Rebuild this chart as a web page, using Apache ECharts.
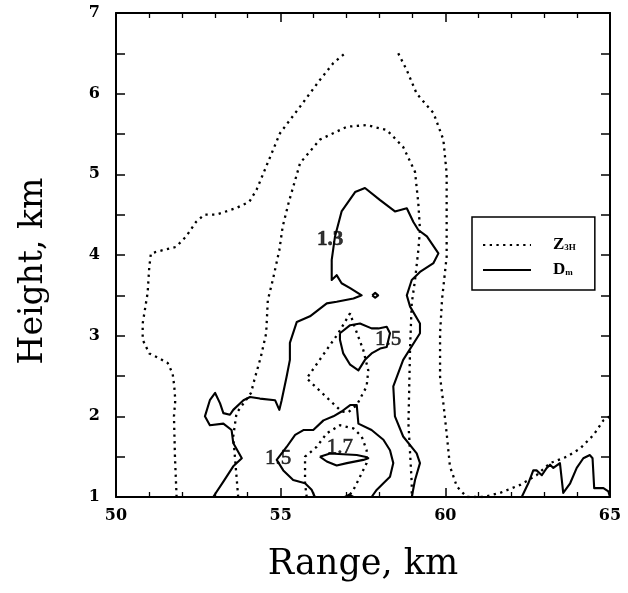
<!DOCTYPE html>
<html>
<head>
<meta charset="utf-8">
<script src="https://cdn.jsdelivr.net/npm/echarts@6/dist/echarts.min.js"></script>
<style>
  html, body { margin: 0; padding: 0; background: #fff; }
  #chart { width: 628px; height: 593px; }
</style>
</head>
<body>
<div id="chart"></div>
<script>
// Axis ticks (km)
const rangeTicks = [50, 55, 60, 65];
const heightTicks = [1, 2, 3, 4, 5, 6, 7];

// Z_3H reflectivity contours, [range km, height km]
const z3hOuterWest = [
  [51.84, 1.00], [51.79, 1.50], [51.76, 2.00], [51.80, 2.20], [51.77, 2.37], [51.72, 2.53],
  [51.57, 2.66], [51.31, 2.72], [51.01, 2.78], [50.81, 2.95], [50.81, 3.15], [50.96, 3.53],
  [51.01, 3.85], [51.06, 4.02], [51.42, 4.06], [51.82, 4.10], [52.13, 4.23], [52.43, 4.41],
  [52.68, 4.50], [53.04, 4.50], [53.64, 4.58], [54.05, 4.66], [54.27, 4.81], [54.98, 5.51],
  [55.59, 5.84], [56.19, 6.17], [56.60, 6.38], [56.95, 6.50]
];
const z3hOuterEast = [
  [58.57, 6.50], [58.83, 6.29], [59.13, 6.00], [59.64, 5.76], [59.94, 5.43], [60.04, 5.01],
  [60.04, 3.98], [59.90, 3.45], [59.84, 3.03], [59.84, 2.49], [59.94, 2.16], [60.04, 1.79],
  [60.14, 1.38], [60.35, 1.13], [60.65, 1.00], [61.15, 1.00], [61.66, 1.05], [62.27, 1.15],
  [62.77, 1.27], [63.18, 1.42], [63.69, 1.50], [64.09, 1.60], [64.50, 1.77], [64.80, 1.95],
  [65.00, 2.00]
];
const z3hInner = [
  [53.71, 1.00], [53.66, 1.25], [53.56, 1.75], [53.66, 2.04], [54.10, 2.29], [54.20, 2.45],
  [54.40, 2.74], [54.56, 3.03], [54.61, 3.44], [54.76, 3.69], [54.96, 4.06], [55.06, 4.35],
  [55.25, 4.66], [55.59, 5.14], [56.19, 5.43], [57.01, 5.59], [57.61, 5.61], [58.22, 5.55],
  [58.72, 5.34], [59.08, 5.03], [59.18, 4.64], [59.23, 4.31], [59.18, 4.06], [59.08, 3.69],
  [58.98, 3.40], [58.93, 2.86], [58.88, 1.91], [58.98, 1.17], [58.98, 1.00]
];
const z3hKite = [
  [57.11, 3.28], [56.75, 3.03], [55.79, 2.47], [56.85, 2.06], [57.05, 2.05], [57.31, 2.14],
  [57.61, 2.37], [57.66, 2.57], [57.51, 2.82], [57.21, 3.15], [57.11, 3.28]
];
const z3hCore = [
  [55.79, 1.00], [55.74, 1.17], [55.74, 1.50], [56.09, 1.62], [56.40, 1.79], [56.80, 1.89],
  [57.21, 1.85], [57.46, 1.75], [57.61, 1.58], [57.61, 1.42], [57.36, 1.21], [57.21, 1.09],
  [57.05, 1.00]
];

// D_m median drop diameter contours, [range km, height km]
const dm13 = [
  [52.95, 1.00], [53.26, 1.19], [53.56, 1.38], [53.82, 1.48], [53.56, 1.67], [53.51, 1.83],
  [53.26, 1.91], [52.85, 1.89], [52.70, 2.00], [52.85, 2.20], [53.01, 2.29], [53.16, 2.16],
  [53.26, 2.04], [53.46, 2.02], [53.56, 2.08], [53.87, 2.20], [54.07, 2.24], [54.37, 2.22],
  [54.83, 2.20], [54.96, 2.08], [55.03, 2.20], [55.18, 2.49], [55.28, 2.70], [55.28, 2.91],
  [55.49, 3.17], [55.89, 3.24], [56.40, 3.40], [56.70, 3.42], [57.21, 3.46], [57.46, 3.50],
  [57.11, 3.59], [56.85, 3.65], [56.70, 3.75], [56.55, 3.69], [56.55, 3.94], [56.65, 4.23],
  [56.85, 4.54], [57.26, 4.78], [57.56, 4.83], [58.02, 4.68], [58.47, 4.54], [58.83, 4.58],
  [59.03, 4.41], [59.18, 4.31], [59.44, 4.23], [59.79, 4.02], [59.64, 3.90], [59.23, 3.79],
  [58.98, 3.69], [58.83, 3.50], [58.93, 3.36], [59.23, 3.15], [59.23, 3.03], [58.72, 2.70],
  [58.42, 2.37], [58.47, 2.00], [58.72, 1.75], [59.13, 1.54], [59.23, 1.42], [59.08, 1.21],
  [58.98, 1.00]
];
const dmSpeck = [[57.78, 3.50], [57.87, 3.53], [57.96, 3.50], [57.87, 3.47], [57.78, 3.50]];
const dm15Upper = [
  [56.80, 3.03], [57.11, 3.13], [57.41, 3.15], [57.76, 3.09], [57.97, 3.09], [58.22, 3.11],
  [58.32, 3.03], [58.22, 2.86], [58.02, 2.84], [57.76, 2.78], [57.56, 2.70], [57.36, 2.57],
  [57.11, 2.64], [56.90, 2.78], [56.80, 2.95], [56.80, 3.03]
];
const dm15Lower = [
  [56.04, 1.00], [55.94, 1.09], [55.74, 1.17], [55.38, 1.21], [55.08, 1.33], [54.88, 1.46],
  [55.18, 1.62], [55.44, 1.77], [55.69, 1.83], [55.99, 1.83], [56.30, 1.95], [56.60, 2.00],
  [56.85, 2.06], [57.11, 2.14], [57.31, 2.14], [57.36, 1.91], [57.76, 1.83], [58.12, 1.71],
  [58.32, 1.58], [58.42, 1.42], [58.32, 1.25], [58.12, 1.17], [57.92, 1.09], [57.76, 1.00]
];
const dm17 = [
  [56.19, 1.50], [56.50, 1.54], [56.90, 1.53], [57.31, 1.52], [57.56, 1.50], [57.66, 1.48],
  [57.51, 1.46], [57.01, 1.42], [56.70, 1.39], [56.40, 1.44], [56.19, 1.50]
];
const dmCap = [[56.95, 1.00], [57.08, 1.03], [57.21, 1.00]];
const dmEast = [
  [62.32, 1.00], [62.52, 1.17], [62.67, 1.33], [62.77, 1.33], [62.93, 1.27], [63.08, 1.36],
  [63.18, 1.40], [63.28, 1.36], [63.48, 1.42], [63.58, 1.05], [63.79, 1.17], [63.99, 1.36],
  [64.19, 1.48], [64.39, 1.52], [64.47, 1.48], [64.52, 1.11], [64.80, 1.11], [64.95, 1.07],
  [65.00, 1.00]
];

// Contour level labels: [range, height, text]
const contourLabels = [
  [56.50, 4.19, '1.3'],
  [58.26, 2.95, '1.5'],
  [54.92, 1.48, '1.5'],
  [56.80, 1.61, '1.7']
];

const INK = '#000';
const SERIF = '"Liberation Serif", "Times New Roman", serif';
const WIDE_SERIF = '"DejaVu Serif", serif';

function contour(name, pts, dotted) {
  return {
    type: 'line',
    name: name,
    data: pts,
    symbol: 'none',
    showSymbol: false,
    smooth: false,
    silent: true,
    z: dotted ? 2 : 3,
    lineStyle: dotted
      ? { color: INK, width: 2.3, type: [2.3, 4.4], cap: 'butt' }
      : { color: INK, width: 2.1, type: 'solid', join: 'round' },
    itemStyle: { color: INK }
  };
}

const levelLabels = {
  type: 'scatter',
  name: 'levels',
  symbolSize: 1,
  silent: true,
  z: 4,
  itemStyle: { color: 'rgba(0,0,0,0)' },
  label: {
    show: true,
    position: 'inside',
    formatter: p => p.value[2],
    color: INK,
    textBorderWidth: 0.6,
    textBorderColor: INK,
    fontFamily: SERIF,
    fontSize: 21,
    fontWeight: 'normal'
  },
  // the 1.3 level is set in bold
  data: contourLabels.map((d, i) => ({
    value: d,
    label: i === 0 ? { fontWeight: 'bold' } : {}
  }))
};

const series = [
  contour('Z3H', z3hOuterWest, true),
  contour('Z3H', z3hOuterEast, true),
  contour('Z3H', z3hInner, true),
  contour('Z3H', z3hKite, true),
  contour('Z3H', z3hCore, true),
  contour('Dm', dm13, false),
  contour('Dm', dmSpeck, false),
  contour('Dm', dm15Upper, false),
  contour('Dm', dm15Lower, false),
  contour('Dm', dm17, false),
  contour('Dm', dmCap, false),
  contour('Dm', dmEast, false),
  levelLabels
];

const xMin = rangeTicks[0], xMax = rangeTicks[rangeTicks.length - 1];
const xStep = rangeTicks[1] - rangeTicks[0];
const yMin = heightTicks[0], yMax = heightTicks[heightTicks.length - 1];
const yStep = heightTicks[1] - heightTicks[0];

const tickLabel = {
  color: INK,
  fontFamily: WIDE_SERIF,
  fontWeight: 'bold',
  fontSize: 16
};

function xAxis(pos, showLabels) {
  return {
    type: 'value', position: pos, min: xMin, max: xMax, interval: xStep,
    axisLine: { show: true, onZero: false, lineStyle: { color: INK, width: 2 } },
    axisTick: { show: true, inside: true, length: 9, lineStyle: { color: INK, width: 1.5 } },
    minorTick: { show: true, splitNumber: 5, length: 5, lineStyle: { color: INK, width: 1.3 } },
    axisLabel: Object.assign({ show: showLabels, margin: 11 }, tickLabel),
    splitLine: { show: false },
    minorSplitLine: { show: false }
  };
}
function yAxis(pos, showLabels) {
  return {
    type: 'value', position: pos, min: yMin, max: yMax, interval: yStep,
    axisLine: { show: true, onZero: false, lineStyle: { color: INK, width: 2 } },
    axisTick: { show: true, inside: true, length: 9, lineStyle: { color: INK, width: 1.5 } },
    minorTick: { show: true, splitNumber: 2, length: 9, lineStyle: { color: INK, width: 1.5 } },
    axisLabel: Object.assign({ show: showLabels, margin: 16 }, tickLabel),
    splitLine: { show: false },
    minorSplitLine: { show: false }
  };
}

const xa = xAxis('bottom', true);
xa.name = 'Range, km';
xa.nameLocation = 'middle';
xa.nameGap = 50;
xa.nameTextStyle = { color: INK, fontFamily: WIDE_SERIF, fontSize: 35 };

const ya = yAxis('left', true);
ya.name = 'Height, km';
ya.nameLocation = 'middle';
ya.nameRotate = 90;
ya.nameGap = 66;
ya.nameTextStyle = {
  color: INK, fontFamily: WIDE_SERIF, fontSize: 33,
  padding: [0, 32, 0, 0]
};

const chart = echarts.init(document.getElementById('chart'), null, { renderer: 'canvas' });
chart.setOption({
  animation: false,
  backgroundColor: '#fff',
  grid: { left: 116, right: 18, top: 13, bottom: 96, containLabel: false, outerBoundsMode: 'none' },
  xAxis: [xa, xAxis('top', false)],
  yAxis: [ya, yAxis('right', false)],
  legend: {
    data: ['Z3H', 'Dm'],
    orient: 'vertical',
    left: 472,
    top: 217,
    padding: [18, 19, 10, 10],
    itemGap: 5,
    itemWidth: 48,
    itemHeight: 12,
    borderColor: INK,
    borderWidth: 1.5,
    borderRadius: 0,
    backgroundColor: '#fff',
    selectedMode: false,
    itemStyle: { opacity: 0 },
    formatter: name => name === 'Z3H' ? '{b|Z}{s|3H}' : '{r|D}{s|m}',
    textStyle: {
      color: INK,
      lineHeight: 20,
      padding: [0, 0, 0, 17],
      rich: {
        b: { fontFamily: SERIF, fontWeight: 'bold', fontSize: 17, color: INK },
        r: { fontFamily: SERIF, fontWeight: 'bold', fontSize: 17, color: INK },
        s: { fontFamily: SERIF, fontWeight: 'bold', fontSize: 9, color: INK, padding: [6, 0, 0, 0] }
      }
    }
  },
  series: series
});
</script>
</body>
</html>
